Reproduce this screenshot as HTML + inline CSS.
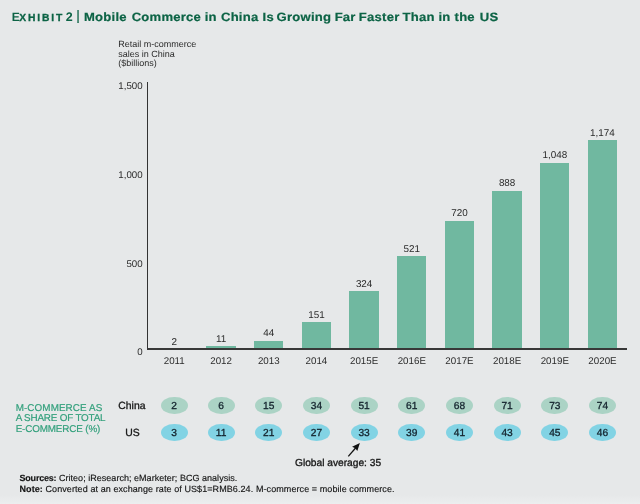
<!DOCTYPE html>
<html><head><meta charset="utf-8">
<style>
html,body{margin:0;padding:0;}
body{width:640px;height:504px;background:#e6e8e9;position:relative;overflow:hidden;text-rendering:geometricPrecision;font-family:"Liberation Sans",sans-serif;color:#2b2b2b;}
.abs{position:absolute;white-space:nowrap;}
#title{left:12px;top:9.4px;font-size:12.5px;font-weight:bold;color:#0c6345;line-height:16px;}
#ex b{font-size:12px;margin-left:-.2px}
#ex small{font-size:10.3px;letter-spacing:1.85px;margin-left:-.5px;-webkit-text-stroke:.3px #0c6345}
#ex i{font-style:normal;margin-left:-1.9px}
#sep{font-weight:normal;-webkit-text-stroke:.2px #0c6345;font-size:13.8px;position:relative;top:-1.2px;margin:0 4px 0 3.6px}
#tt{display:inline-block;font-size:12px;letter-spacing:.2px;transform:scaleX(1.09);transform-origin:0 50%;-webkit-text-stroke:.2px #0c6345}
.bar{position:absolute;background:#70b8a0;width:29.3px;}
.v{position:absolute;font-size:9.9px;line-height:10px;text-align:center;width:48px;color:#2b2b2b;}
.yr{position:absolute;font-size:9.75px;line-height:10px;text-align:center;width:48px;color:#2b2b2b;top:356.8px;}
.yl{position:absolute;font-size:9.7px;line-height:10px;text-align:right;width:40px;left:102.6px;color:#2b2b2b;}
.pill{position:absolute;width:27.2px;height:17.6px;border-radius:50%;font-size:10.2px;line-height:19.6px;text-align:center;color:#14242e;-webkit-text-stroke:.3px #14242e;}
.c{background:#abd3c5;top:396.7px;}
.u{background:#82d3e4;top:423.7px;}
.med{-webkit-text-stroke:.3px #161616;color:#161616 !important}
</style></head><body>
<div id="title" class="abs"><span id="ex"><b>E</b><small>XHIBIT</small> <i>2</i></span><span id="sep">|</span><span id="tt">Mobile <span style="margin-left:1.0px">Commerce</span> <span style="margin-left:-0.2px">in</span> <span style="margin-left:0.3px">China</span> <span style="margin-left:0.3px">Is</span> <span style="margin-left:-1.1px">Growing</span> <span style="margin-left:-0.4px">Far</span> <span style="margin-left:-0.6px">Faster</span> <span style="margin-left:-0.7px">Than</span> <span style="margin-left:-0.1px">in</span> <span style="margin-left:0.2px">the</span> <span style="margin-left:1.0px">US</span></span></div>
<div class="abs" id="ylab" style="left:118.2px;top:40.3px;font-size:9px;line-height:9.5px;color:#2b2b2b">Retail m-commerce<br>sales in China<br>($billions)</div>
<div class="yl" style="top:81.7px">1,500</div>
<div class="yl" style="top:170.6px">1,000</div>
<div class="yl" style="top:259.8px">500</div>
<div class="yl" style="top:348.1px">0</div>
<div id="bars">
<div class="bar" style="left:158.8px;top:348.64px;height:0.36px"></div>
<div class="v" style="left:150.2px;top:337.7px">2</div>
<div class="yr" style="left:150.2px">2011</div>
<div class="pill c" style="left:160.6px">2</div>
<div class="pill u" style="left:160.6px">3</div>
<div class="bar" style="left:206.47px;top:346px;height:3px"></div>
<div class="v" style="left:197.12px;top:334.5px">11</div>
<div class="yr" style="left:197.12px">2012</div>
<div class="pill c" style="left:207.52px">6</div>
<div class="pill u" style="left:207.52px">11</div>
<div class="bar" style="left:254.14px;top:341.18px;height:7.82px"></div>
<div class="v" style="left:244.79px;top:328.9px">44</div>
<div class="yr" style="left:244.79px">2013</div>
<div class="pill c" style="left:255.19px">15</div>
<div class="pill u" style="left:255.19px">21</div>
<div class="bar" style="left:301.81px;top:322.15px;height:26.85px"></div>
<div class="v" style="left:292.46px;top:310.9px">151</div>
<div class="yr" style="left:292.46px">2014</div>
<div class="pill c" style="left:302.86px">34</div>
<div class="pill u" style="left:302.86px">27</div>
<div class="bar" style="left:349.48px;top:291.39px;height:57.61px"></div>
<div class="v" style="left:340.13px;top:280.2px">324</div>
<div class="yr" style="left:340.13px">2015E</div>
<div class="pill c" style="left:350.53px">51</div>
<div class="pill u" style="left:350.53px">33</div>
<div class="bar" style="left:397.15px;top:256.37px;height:92.63px"></div>
<div class="v" style="left:387.8px;top:245.1px">521</div>
<div class="yr" style="left:387.8px">2016E</div>
<div class="pill c" style="left:398.2px">61</div>
<div class="pill u" style="left:398.2px">39</div>
<div class="bar" style="left:444.82px;top:220.98px;height:128.02px"></div>
<div class="v" style="left:435.47px;top:209.3px">720</div>
<div class="yr" style="left:435.47px">2017E</div>
<div class="pill c" style="left:445.87px">68</div>
<div class="pill u" style="left:445.87px">41</div>
<div class="bar" style="left:492.49px;top:191.11px;height:157.89px"></div>
<div class="v" style="left:483.14px;top:178.8px">888</div>
<div class="yr" style="left:483.14px">2018E</div>
<div class="pill c" style="left:493.54px">71</div>
<div class="pill u" style="left:493.54px">43</div>
<div class="bar" style="left:540.16px;top:162.67px;height:186.33px"></div>
<div class="v" style="left:530.81px;top:151.25px">1,048</div>
<div class="yr" style="left:530.81px">2019E</div>
<div class="pill c" style="left:541.21px">73</div>
<div class="pill u" style="left:541.21px">45</div>
<div class="bar" style="left:587.83px;top:140.26px;height:208.74px"></div>
<div class="v" style="left:578.48px;top:129.2px">1,174</div>
<div class="yr" style="left:578.48px">2020E</div>
<div class="pill c" style="left:588.88px">74</div>
<div class="pill u" style="left:588.88px">46</div>

</div>
<div id="yaxis" style="position:absolute;left:146.8px;top:81.8px;width:1.5px;height:268px;background:#333"></div>
<div id="xaxis" style="position:absolute;left:146.8px;top:347.85px;width:480.5px;height:1.75px;background:#383838"></div>
<div class="abs" id="mlab" style="left:15.7px;top:403.6px;font-size:9.9px;line-height:10.6px;color:#32a07c;-webkit-text-stroke:.18px #32a07c"><span style="letter-spacing:.08px">M-COMMERCE AS</span><br><span style="letter-spacing:-.19px">A SHARE OF TOTAL</span><br><span style="letter-spacing:-.16px">E-COMMERCE (%)</span></div>
<div class="abs med" id="china" style="left:118.3px;top:401px;font-size:10.4px;line-height:12px;color:#222">China</div>
<div class="abs med" id="us" style="left:125.3px;top:427.8px;font-size:10.4px;line-height:12px;color:#222">US</div>
<div class="abs med" id="ga" style="left:295px;top:457.8px;font-size:10.2px;line-height:12px;color:#222">Global average: 35</div>
<svg class="abs" style="left:340px;top:436px" width="32" height="26" viewBox="340 436 32 26"><line x1="348.3" y1="456.4" x2="356" y2="447.5" stroke="#111" stroke-width="1.3"/><polygon points="359.9,443 352.1,446.8 355.3,448.3 357.3,451" fill="#111"/></svg>
<div class="abs" id="src" style="left:19.5px;top:473.1px;font-size:9px;line-height:11.3px;color:#151515;-webkit-text-stroke:.15px #151515"><span style="letter-spacing:.03px"><b style="letter-spacing:-.2px">Sources:</b> Criteo; iResearch; eMarketer; BCG analysis.</span><br><span style="letter-spacing:.085px"><b>Note:</b> Converted at an exchange rate of US$1=RMB6.24. M-commerce = mobile commerce.</span></div>
<div style="position:absolute;left:0;top:495px;width:640px;height:9px;background:linear-gradient(#e6e8e9,#eceeef)"></div>
</body></html>
